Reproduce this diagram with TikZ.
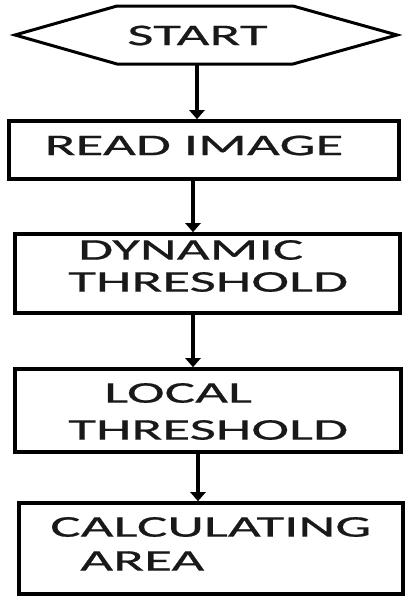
\documentclass[tikz,border=0pt]{standalone}
\usepackage{fontspec}
\usetikzlibrary{arrows.meta}
\newfontfamily\flowfont[FakeStretch=1.9,FakeBold=0.6]{Carlito}
\begin{document}
\begin{tikzpicture}[x=1pt,y=1pt,
  box/.style={draw=black,line width=3.6pt,inner sep=0pt},
  label/.style={font=\flowfont\fontsize{30}{34}\selectfont,inner sep=0pt,anchor=west,text=black!90},
  arr/.style={line width=3.4pt,-{Triangle[width=15pt,length=9pt]}}]
  \useasboundingbox (0,0) rectangle (409,-597);
  \fill[white] (0,0) rectangle (409,-597);

  % start terminal (hexagon)
  \draw[line width=3pt,line join=miter]
    (117,-6) -- (293,-6) -- (397,-35) -- (293,-64) -- (117,-64) -- (15,-35) -- cycle;
  \node[minimum width=176pt,minimum height=58pt,inner sep=0pt] (start) at (205,-35) {};
  \node[label,anchor=center] (tstart) at (197.5,-35.5) {START};

  % process boxes
  \node[box,minimum width=390pt,minimum height=58pt] (read) at (204,-150) {};
  \node[box,minimum width=385pt,minimum height=79pt] (dyn) at (207.5,-273.5) {};
  \node[box,minimum width=386pt,minimum height=83pt] (loc) at (208,-410.5) {};
  \node[box,minimum width=384pt,minimum height=91pt] (calc) at (211,-548.5) {};

  % box texts
  \node[label,anchor=center] (tread) at (194,-145.5) {READ IMAGE};
  \node[label] (tdyn1) at (78,-250) {DYNAMIC};
  \node[label] (tdyn2) at (68,-282) {THRESHOLD};
  \node[label] (tloc1) at (104,-393) {LOCAL};
  \node[label] (tloc2) at (68,-430) {THRESHOLD};
  \node[label] (tcalc1) at (50,-527) {CALCULATING};
  \node[label] (tcalc2) at (80,-561) {AREA};

  % connectors
  \draw[arr] ([xshift=-8pt]start.south) -- ([xshift=-7pt]read.north);
  \draw[arr] ([xshift=-11pt]read.south) -- ([xshift=-14.5pt]dyn.north);
  \draw[arr] ([xshift=-14.5pt]dyn.south) -- ([xshift=-15pt]loc.north);
  \draw[arr] ([xshift=-10pt]loc.south) -- ([xshift=-13pt]calc.north);
\end{tikzpicture}
\end{document}
